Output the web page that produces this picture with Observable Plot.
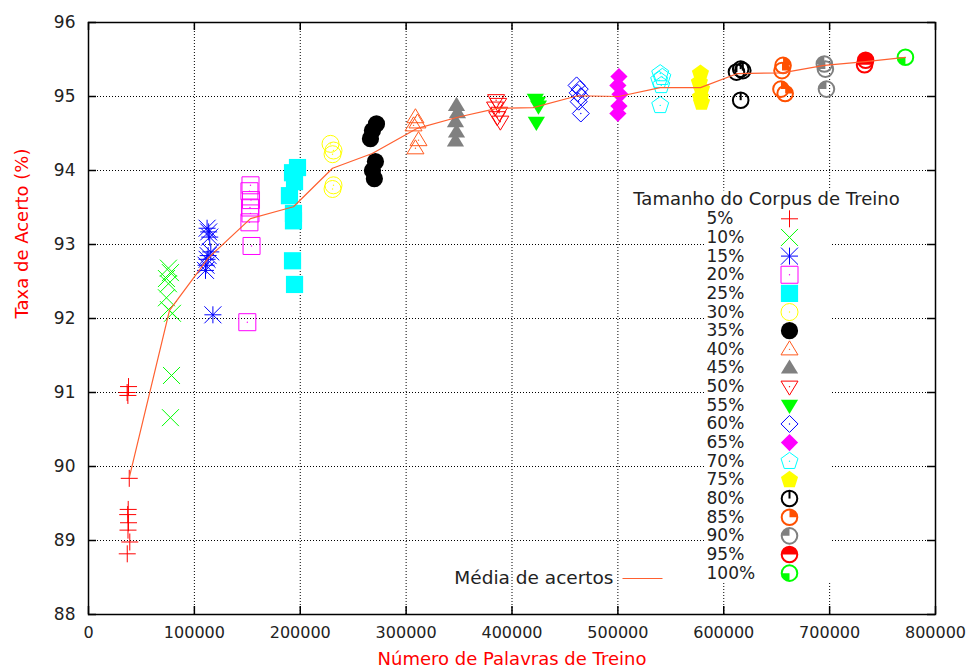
<!DOCTYPE html>
<html><head><meta charset="utf-8">
<script src="https://cdn.jsdelivr.net/npm/d3@7"></script>
<script src="https://cdn.jsdelivr.net/npm/@observablehq/plot@0.6"></script>
<style>body{margin:0;background:#fff}</style>
</head><body><div id="chart"></div>
<script>
// ---- data ----
const xTicks = [0,100000,200000,300000,400000,500000,600000,700000,800000];
const yTicks = [88,89,90,91,92,93,94,95,96];
const xGrid = [100000,200000,300000,400000,500000,600000,700000];
const yGrid = [89,90,91,92,93,94,95];

const p05 = [[37800,91.08],[36500,91.0],[37200,90.96],[38500,89.84],[37500,89.42],[37000,89.35],[37800,89.24],[37300,89.14],[39000,88.98],[36600,88.82]];
const p10 = [[75500,92.68],[77400,92.62],[73600,92.54],[75500,92.47],[73600,92.28],[75500,92.12],[79300,92.07],[78400,91.23],[77400,90.66]];
const p15 = [[112000,93.22],[113500,93.17],[114500,93.1],[115500,92.9],[113000,92.85],[112000,92.8],[111000,92.72],[110500,92.65],[117500,92.05]];
const p20 = [[153000,93.8],[152000,93.72],[153500,93.6],[152500,93.5],[153000,93.42],[152000,93.3],[154000,92.98],[150000,91.95]];
const p25 = [[197400,94.04],[192700,93.97],[194600,93.85],[189800,93.66],[193600,93.42],[193600,93.32],[192700,92.78],[194600,92.46]];
const p30 = [[228600,94.36],[231400,94.27],[230500,94.22],[231400,93.8],[230500,93.75]];
const p35 = [[268200,94.54],[272000,94.63],[266300,94.43],[271000,94.12],[268200,94.0],[270000,93.89]];
const p40 = [[308800,94.72],[310700,94.65],[307000,94.61],[311700,94.41],[308800,94.3]];
const p45 = [[347600,94.88],[348500,94.78],[346600,94.66],[347600,94.52],[346600,94.4]];
const p50 = [[385000,94.95],[387000,94.9],[384000,94.85],[388000,94.78],[386000,94.72],[389000,94.66]];
const p55 = [[422000,94.96],[424000,94.92],[425000,94.87],[423000,94.65]];
const p60 = [[461000,95.15],[464000,95.1],[462000,95.05],[465000,95.0],[463000,94.93],[465000,94.77]];
const p65 = [[501000,95.27],[500000,95.15],[502000,95.03],[501000,94.87],[500000,94.77]];
const p70 = [[540000,95.31],[542000,95.26],[539000,95.22],[541000,95.15],[540000,94.88]];
const p75 = [[578000,95.31],[577000,95.19],[579000,95.1],[578000,94.99],[579000,94.92]];
const p80 = [[616000,95.37],[612000,95.33],[618000,95.35],[616000,94.95]];
const p85 = [[656000,95.42],[655000,95.35],[654000,95.1],[658000,95.04]];
const p90 = [[695000,95.44],[696000,95.37],[697000,95.1]];
const p95 = [[734000,95.49],[733000,95.43]];
const p100 = [[771600,95.53]];

const meanLine = [[38500,89.85],[76500,92.11],[113300,92.82],[153000,93.35],[193600,93.51],[230500,94.03],[268000,94.23],[310600,94.57],[348500,94.72],[386000,94.84],[420000,94.85],[462000,95.01],[500700,95.0],[540000,95.12],[578000,95.12],[613000,95.31],[655000,95.32],[695000,95.42],[734000,95.47],[771600,95.53]];

const seriesLabels = ["5%","10%","15%","20%","25%","30%","35%","40%","45%","50%","55%","60%","65%","70%","75%","80%","85%","90%","95%","100%"];
const legendTitle = "Tamanho do Corpus de Treino";
const meanLabel = "Média de acertos";
const xLabel = "Número de Palavras de Treino";
const yLabel = "Taxa de Acerto (%)";

// ---- symbols ----
const rad = s => Math.sqrt(s / Math.PI);
const SYM = {
  plus: {draw(c, s){const r=rad(s); c.moveTo(-r,0); c.lineTo(r,0); c.moveTo(0,-r); c.lineTo(0,r);}},
  cross: {draw(c, s){const r=rad(s); c.moveTo(-r,-r); c.lineTo(r,r); c.moveTo(-r,r); c.lineTo(r,-r);}},
  star: {draw(c, s){const r=rad(s); c.moveTo(-r,0); c.lineTo(r,0); c.moveTo(0,-r); c.lineTo(0,r); c.moveTo(-r,-r); c.lineTo(r,r); c.moveTo(-r,r); c.lineTo(r,-r);}},
  square: {draw(c, s){const r=rad(s); c.moveTo(-r,-r); c.lineTo(r,-r); c.lineTo(r,r); c.lineTo(-r,r); c.closePath();}},
  circle: {draw(c, s){const r=rad(s); c.moveTo(r,0); c.arc(0,0,r,0,2*Math.PI); c.closePath();}},
  tri: {draw(c, s){const r=rad(s); c.moveTo(0,-r); c.lineTo(r,0.65*r); c.lineTo(-r,0.65*r); c.closePath();}},
  itri: {draw(c, s){const r=rad(s); c.moveTo(0,r); c.lineTo(r,-0.65*r); c.lineTo(-r,-0.65*r); c.closePath();}},
  diamond: {draw(c, s){const r=rad(s); c.moveTo(0,-r); c.lineTo(r,0); c.lineTo(0,r); c.lineTo(-r,0); c.closePath();}},
  pent: {draw(c, s){const R=rad(s)*1.05; for(let k=0;k<5;k++){const a=-Math.PI/2+k*2*Math.PI/5; const px=R*Math.cos(a), py=R*Math.sin(a); k?c.lineTo(px,py):c.moveTo(px,py);} c.closePath();}},
  tick: {draw(c, s){const r=rad(s); c.moveTo(0,0); c.lineTo(0,-r);}},
  qTR: {draw(c, s){const r=rad(s); c.moveTo(0,0); c.arc(0,0,r,-Math.PI/2,0); c.closePath();}},
  qTL: {draw(c, s){const r=rad(s); c.moveTo(0,0); c.arc(0,0,r,Math.PI,1.5*Math.PI); c.closePath();}},
  half: {draw(c, s){const r=rad(s); c.moveTo(-r,0); c.arc(0,0,r,Math.PI,2*Math.PI); c.closePath();}},
  qBL: {draw(c, s){const r=rad(s); c.moveTo(0,0); c.arc(0,0,r,Math.PI/2,Math.PI); c.closePath();}},
  hline: {draw(c){c.moveTo(-20,0); c.lineTo(20,0);}}
};

const styles = [
  {kind:"stroke", shape:"plus", color:"#ff0000"},
  {kind:"stroke", shape:"cross", color:"#00ff00"},
  {kind:"stroke", shape:"star", color:"#0000ff"},
  {kind:"open", shape:"square", color:"#ff00ff"},
  {kind:"fill", shape:"square", color:"#00ffff"},
  {kind:"open", shape:"circle", color:"#ffff00"},
  {kind:"fill", shape:"circle", color:"#000000"},
  {kind:"open", shape:"tri", color:"#ff5a1e"},
  {kind:"fill", shape:"tri", color:"#808080"},
  {kind:"open", shape:"itri", color:"#ff0000"},
  {kind:"fill", shape:"itri", color:"#00ff00"},
  {kind:"open", shape:"diamond", color:"#0000ff"},
  {kind:"fill", shape:"diamond", color:"#ff00ff"},
  {kind:"open", shape:"pent", color:"#00ffff"},
  {kind:"fill", shape:"pent", color:"#ffff00"},
  {kind:"ring", shape:"tick", color:"#000000"},
  {kind:"ring", shape:"qTR", color:"#ff5000"},
  {kind:"ring", shape:"qTL", color:"#808080"},
  {kind:"ring", shape:"half", color:"#ff0000"},
  {kind:"ring", shape:"qBL", color:"#00ff00"}
];
const seriesData = [p05,p10,p15,p20,p25,p30,p35,p40,p45,p50,p55,p60,p65,p70,p75,p80,p85,p90,p95,p100];

function symbolMarks(st, data, pos) {
  const m = [];
  if (st.kind === "stroke") {
    m.push(Plot.dot(data, {...pos, r: 8.5, symbol: SYM[st.shape], stroke: st.color, fill: "none", strokeWidth: 1}));
  } else if (st.kind === "open") {
    m.push(Plot.dot(data, {...pos, r: 8.5, symbol: SYM[st.shape], stroke: st.color, fill: "none", strokeWidth: 1}));
    m.push(Plot.dot(data, {...pos, r: 0.7, symbol: SYM.circle, fill: st.color, stroke: "none"}));
  } else if (st.kind === "fill") {
    m.push(Plot.dot(data, {...pos, r: 8.6, symbol: SYM[st.shape], fill: st.color, stroke: "none"}));
  } else {
    m.push(Plot.dot(data, {...pos, r: 7.8, symbol: SYM.circle, stroke: st.color, fill: "none", strokeWidth: 2}));
    if (st.shape === "tick") m.push(Plot.dot(data, {...pos, r: 7.8, symbol: SYM.tick, stroke: st.color, fill: "none", strokeWidth: 2}));
    else m.push(Plot.dot(data, {...pos, r: 7.8, symbol: SYM[st.shape], fill: st.color, stroke: "none"}));
  }
  return m;
}

const W = 966, H = 671, ML = 88, MR = 31, MT = 22, MB = 57;
const FW = W - ML - MR, FH = H - MT - MB;
const rowY = i => 196.3 + i * 18.65;

const scatter = styles.flatMap((st, i) => symbolMarks(st, seriesData[i], {x: d => d[0], y: d => d[1]}));
const legendMarks = styles.flatMap((st, i) => [
  Plot.text([seriesLabels[i]], {frameAnchor: "top-left", dx: 618, dy: rowY(i), text: d => d, textAnchor: "start", lineAnchor: "middle", fontSize: 17, fill: "#222"}),
  ...symbolMarks(st, [0], {x: null, y: null, frameAnchor: "top-left", dx: 701, dy: rowY(i)})
]);

const chart = Plot.plot({
  width: W, height: H,
  marginLeft: ML, marginRight: MR, marginTop: MT, marginBottom: MB,
  style: {fontFamily: "DejaVu Sans", fontSize: "16px", background: "white", color: "#222"},
  x: {domain: [0, 800000]},
  y: {domain: [88, 96]},
  marks: [
    Plot.ruleY(yGrid, {y: d => d, stroke: "black", strokeWidth: 1, strokeDasharray: "1,2"}),
    Plot.ruleX(xGrid, {x: d => d, stroke: "black", strokeWidth: 1, strokeDasharray: "1,2"}),
    Plot.frame({fill: "white", stroke: null, insetLeft: 617, insetRight: 104, insetTop: 168, insetBottom: 32}),
    ...scatter,
    Plot.line(meanLine, {x: d => d[0], y: d => d[1], stroke: "#ff6030", strokeWidth: 1.2}),
    Plot.text([legendTitle], {frameAnchor: "top-left", dx: 678, dy: 177, text: d => d, textAnchor: "middle", lineAnchor: "middle", fontSize: 18, fill: "#222"}),
    ...legendMarks,
    Plot.text([meanLabel], {frameAnchor: "top-left", dx: 525, dy: 556, text: d => d, textAnchor: "end", lineAnchor: "middle", fontSize: 18.5, fill: "#222"}),
    Plot.dot([0], {x: null, y: null, frameAnchor: "top-left", dx: 554, dy: 556, symbol: SYM.hline, r: 1, stroke: "#ff6030", strokeWidth: 1.2, fill: "none"}),
    Plot.frame({stroke: "black", strokeWidth: 1.5}),
    Plot.tickY(yTicks, {y: d => d, insetRight: FW - 8, stroke: "black", strokeWidth: 1.5}),
    Plot.tickY(yTicks, {y: d => d, insetLeft: FW - 8, stroke: "black", strokeWidth: 1.5}),
    Plot.tickX(xTicks, {x: d => d, insetTop: FH - 8, stroke: "black", strokeWidth: 1.5}),
    Plot.tickX(xTicks, {x: d => d, insetBottom: FH - 8, stroke: "black", strokeWidth: 1.5}),
    Plot.axisX({ticks: xTicks, tickFormat: d3.format("d"), tickSize: 0, tickPadding: 12, fontSize: 16, label: null}),
    Plot.axisY({ticks: yTicks, tickFormat: d3.format("d"), tickSize: 0, tickPadding: 13, fontSize: 17, label: null}),
    Plot.text([xLabel], {frameAnchor: "bottom", dy: 45, text: d => d, lineAnchor: "middle", fill: "#ff0000", fontSize: 18}),
    Plot.text([yLabel], {frameAnchor: "left", dx: -66, rotate: -90, text: d => d, lineAnchor: "middle", fill: "#ff0000", fontSize: 18})
  ]
});
document.getElementById("chart").appendChild(chart);
</script></body></html>
